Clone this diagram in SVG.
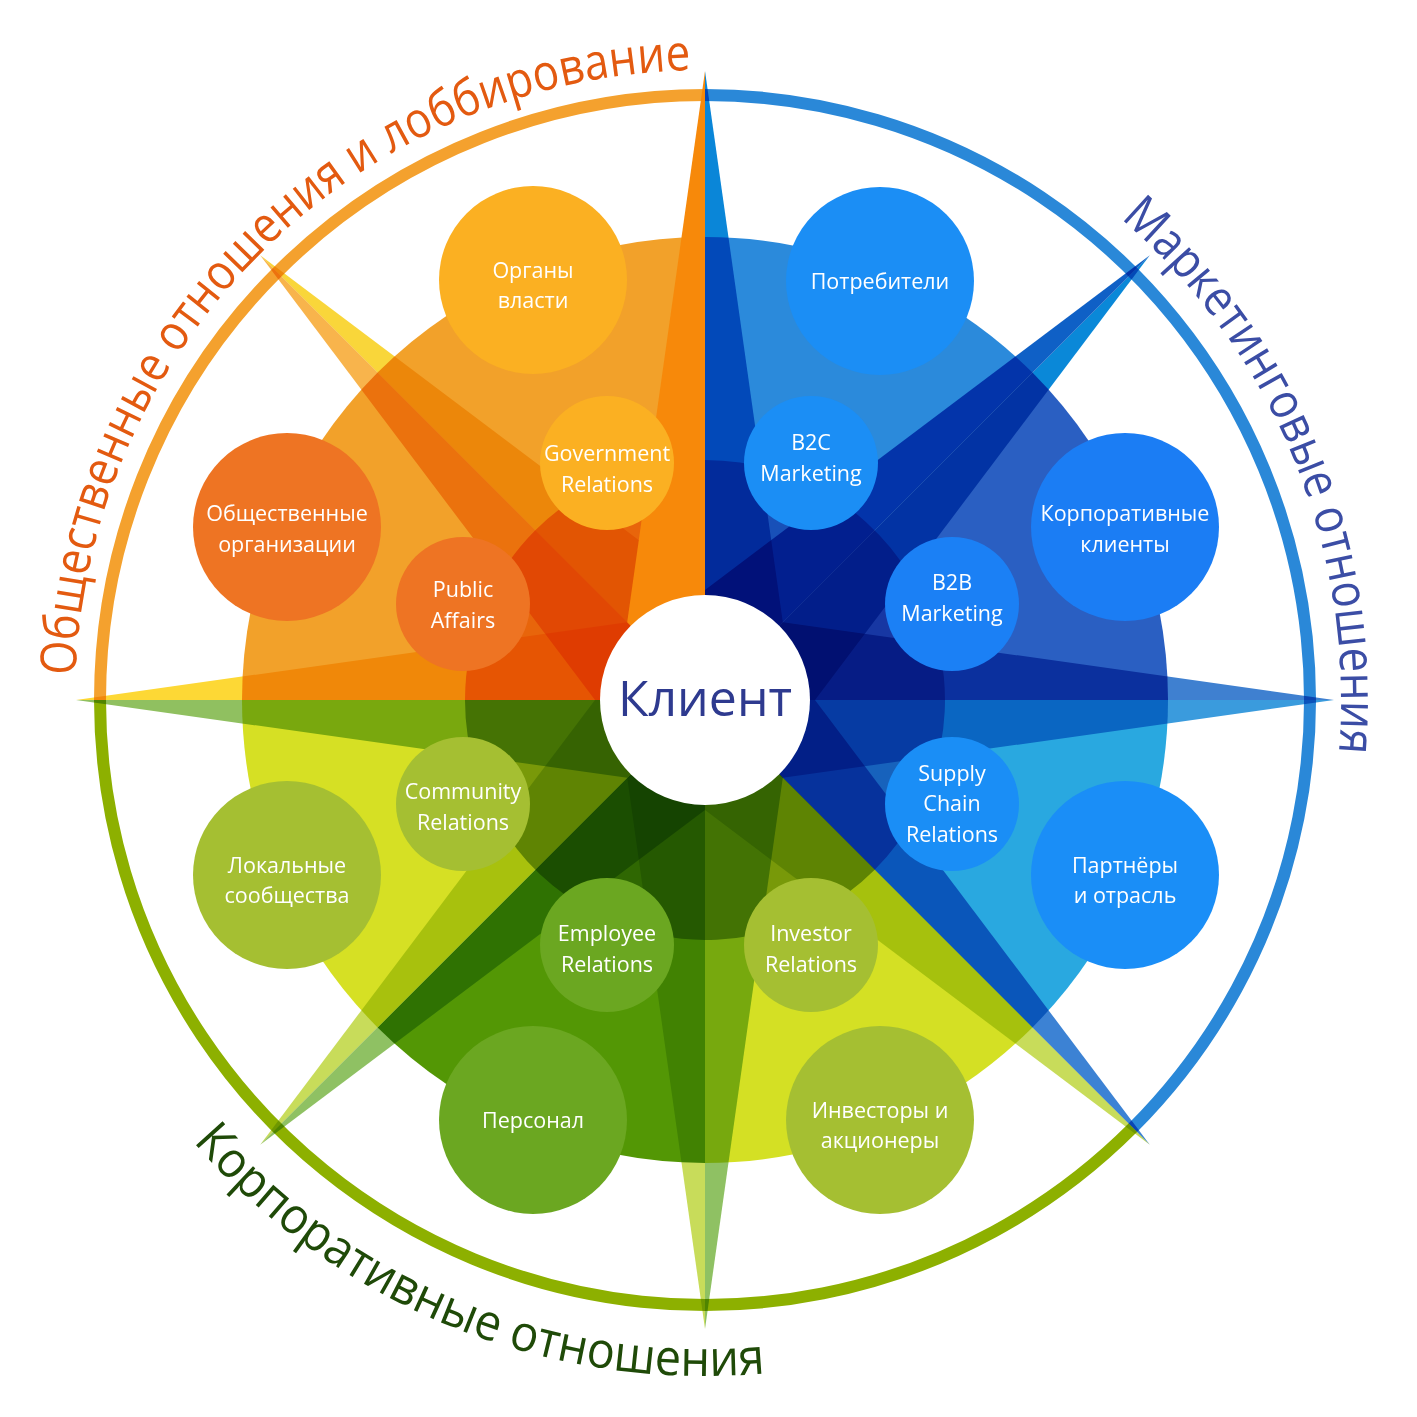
<svg xmlns="http://www.w3.org/2000/svg" width="1417" height="1417" viewBox="0 0 1417 1417">
<defs>
<style>
.m{mix-blend-mode:multiply}
.t{font-family:"Open Sans","Noto Sans","DejaVu Sans",sans-serif;font-size:21.5px;fill:#fff;text-anchor:middle}
.ring{fill:none;stroke-width:12}
.arc{font-family:"Open Sans","Noto Sans","DejaVu Sans",sans-serif;font-size:50px}
</style>
<path id="arcO" d="M75.5,675.8 A630,630 0 0 1 690.7,70.2"/>
<path id="arcB" d="M1120.6,218.5 A636,636 0 0 1 1338.8,753.2"/>
<path id="arcG" d="M193.1,1141.6 A676,676 0 0 0 765.1,1373.3"/>
</defs>
<rect width="1417" height="1417" fill="#fff"/>
<g id="disk">
<path d="M705,700 L705,237 A463,463 0 0 1 1032.4,372.6 Z" fill="#2B8ADB"/>
<path d="M705,700 L1032.4,372.6 A463,463 0 0 1 1168,700 Z" fill="#2A5FC2"/>
<path d="M705,700 L1168,700 A463,463 0 0 1 1032.4,1027.4 Z" fill="#29A8E0"/>
<path d="M705,700 L1032.4,1027.4 A463,463 0 0 1 705,1163 Z" fill="#D4E024"/>
<path d="M705,700 L705,1163 A463,463 0 0 1 377.6,1027.4 Z" fill="#539705"/>
<path d="M705,700 L377.6,1027.4 A463,463 0 0 1 242,700 Z" fill="#D6E024"/>
<path d="M705,700 L242,700 A463,463 0 0 1 705,237 Z" fill="#F2A12A"/>
</g>
<g id="ring">
<path class="ring" d="M100,700 A605,605 0 0 1 705,95" stroke="#F4A12E"/>
<path class="ring" d="M705,95 A605,605 0 0 1 1132.8,1127.8" stroke="#2A88D8"/>
<path class="ring" d="M1132.8,1127.8 A605,605 0 0 1 100,700" stroke="#8DB000"/>
</g>
<g id="rose">
<polygon class="m" points="705,71 705,700 782.8,622.2" fill="#0A86D8"/>
<polygon class="m" points="1149.8,255.2 705,590 705,700" fill="#0F60C6"/>
<polygon class="m" points="1149.8,255.2 705,700 815,700" fill="#0A88D8"/>
<polygon class="m" points="1334,700 782.8,622.2 705,700" fill="#3F80D0"/>
<polygon class="m" points="1334,700 705,700 782.8,777.8" fill="#3A9BDD"/>
<polygon class="m" points="1149.8,1144.8 815,700 705,700" fill="#3C82D4"/>
<polygon class="m" points="1149.8,1144.8 705,700 705,810" fill="#C8DC5A"/>
<polygon class="m" points="705,1329 782.8,777.8 705,700" fill="#8FC163"/>
<polygon class="m" points="705,1329 705,700 627.2,777.8" fill="#C8DC5A"/>
<polygon class="m" points="260.2,1144.8 705,810 705,700" fill="#8FC163"/>
<polygon class="m" points="260.2,1144.8 705,700 595,700" fill="#C8DC5A"/>
<polygon class="m" points="76,700 627.2,777.8 705,700" fill="#90C060"/>
<polygon class="m" points="76,700 705,700 627.2,622.2" fill="#FDD835"/>
<polygon class="m" points="260.2,255.2 595,700 705,700" fill="#F8B44C"/>
<polygon class="m" points="260.2,255.2 705,700 705,590" fill="#F9D63A"/>
<path class="m" d="M705,700 L705,460 A240,240 0 0 1 874.7,869.7 Z" fill="#8A94D6"/>
<path class="m" d="M705,700 L874.7,869.7 A240,240 0 0 1 465,700 Z" fill="#90AE3A"/>
<path class="m" d="M705,700 L465,700 A240,240 0 0 1 705,460 Z" fill="#F5A040"/>
<polygon points="705,71 627.2,622.2 705,700" fill="#F7890A"/>
</g>
<g id="n-organy">
<circle cx="533" cy="280" r="94" fill="#FBB022"/>
<text class="t" x="533" y="278">Органы<tspan x="533" dy="30">власти</tspan></text>
</g>
<g id="n-potrebiteli">
<circle cx="880" cy="281" r="94" fill="#1B8EF5"/>
<text class="t" x="880" y="289">Потребители</text>
</g>
<g id="n-korp-klienty">
<circle cx="1125" cy="527" r="94" fill="#1B7DF4"/>
<text class="t" x="1125" y="521">Корпоративные<tspan x="1125" dy="31">клиенты</tspan></text>
</g>
<g id="n-partnery">
<circle cx="1125" cy="875" r="94" fill="#1A8EF7"/>
<text class="t" x="1125" y="873">Партнёры<tspan x="1125" dy="30">и отрасль</tspan></text>
</g>
<g id="n-investory">
<circle cx="880" cy="1120" r="94" fill="#A5BF32"/>
<text class="t" x="880" y="1118">Инвесторы и<tspan x="880" dy="30">акционеры</tspan></text>
</g>
<g id="n-personal">
<circle cx="533" cy="1120" r="94" fill="#6BA721"/>
<text class="t" x="533" y="1128">Персонал</text>
</g>
<g id="n-lokalnye">
<circle cx="287" cy="875" r="94" fill="#A5BF32"/>
<text class="t" x="287" y="873">Локальные<tspan x="287" dy="30">сообщества</tspan></text>
</g>
<g id="n-obshch-org">
<circle cx="287" cy="527" r="94" fill="#EE7423"/>
<text class="t" x="287" y="521">Общественные<tspan x="287" dy="31">организации</tspan></text>
</g>
<g id="n-gr">
<circle cx="607" cy="463" r="67" fill="#FBB022"/>
<text class="t" x="607" y="461">Government<tspan x="607" dy="31">Relations</tspan></text>
</g>
<g id="n-b2c">
<circle cx="811" cy="463" r="67" fill="#1B8EF5"/>
<text class="t" x="811" y="450">B2C<tspan x="811" dy="31">Marketing</tspan></text>
</g>
<g id="n-b2b">
<circle cx="952" cy="604" r="67" fill="#1B80F5"/>
<text class="t" x="952" y="590">B2B<tspan x="952" dy="31">Marketing</tspan></text>
</g>
<g id="n-scr">
<circle cx="952" cy="804" r="67" fill="#1A8EF6"/>
<text class="t" x="952" y="781">Supply<tspan x="952" dy="30">Chain</tspan><tspan x="952" dy="31">Relations</tspan></text>
</g>
<g id="n-ir">
<circle cx="811" cy="945" r="67" fill="#A5BF32"/>
<text class="t" x="811" y="941">Investor<tspan x="811" dy="31">Relations</tspan></text>
</g>
<g id="n-er">
<circle cx="607" cy="945" r="67" fill="#6BA721"/>
<text class="t" x="607" y="941">Employee<tspan x="607" dy="31">Relations</tspan></text>
</g>
<g id="n-cr">
<circle cx="463" cy="804" r="67" fill="#A5BF32"/>
<text class="t" x="463" y="799">Community<tspan x="463" dy="31">Relations</tspan></text>
</g>
<g id="n-pa">
<circle cx="463" cy="604" r="67" fill="#EE7423"/>
<text class="t" x="463" y="597">Public<tspan x="463" dy="31">Affairs</tspan></text>
</g>
<g id="n-klient">
<circle cx="705" cy="700" r="105" fill="#fff"/>
<text x="705" y="716" font-family="Open Sans, Noto Sans, sans-serif" font-size="50" fill="#2E3A8F" text-anchor="middle">Клиент</text>
</g>
<g id="labels">
<text class="arc" fill="#E35A10"><textPath href="#arcO" textLength="951" lengthAdjust="spacingAndGlyphs">Общественные отношения и лоббирование</textPath></text>
<text class="arc" fill="#3B4DA5"><textPath href="#arcB" textLength="599" lengthAdjust="spacingAndGlyphs">Маркетинговые отношения</textPath></text>
<text class="arc" fill="#1F4A08"><textPath href="#arcG" textLength="641" lengthAdjust="spacingAndGlyphs">Корпоративные отношения</textPath></text>
</g>
</svg>
